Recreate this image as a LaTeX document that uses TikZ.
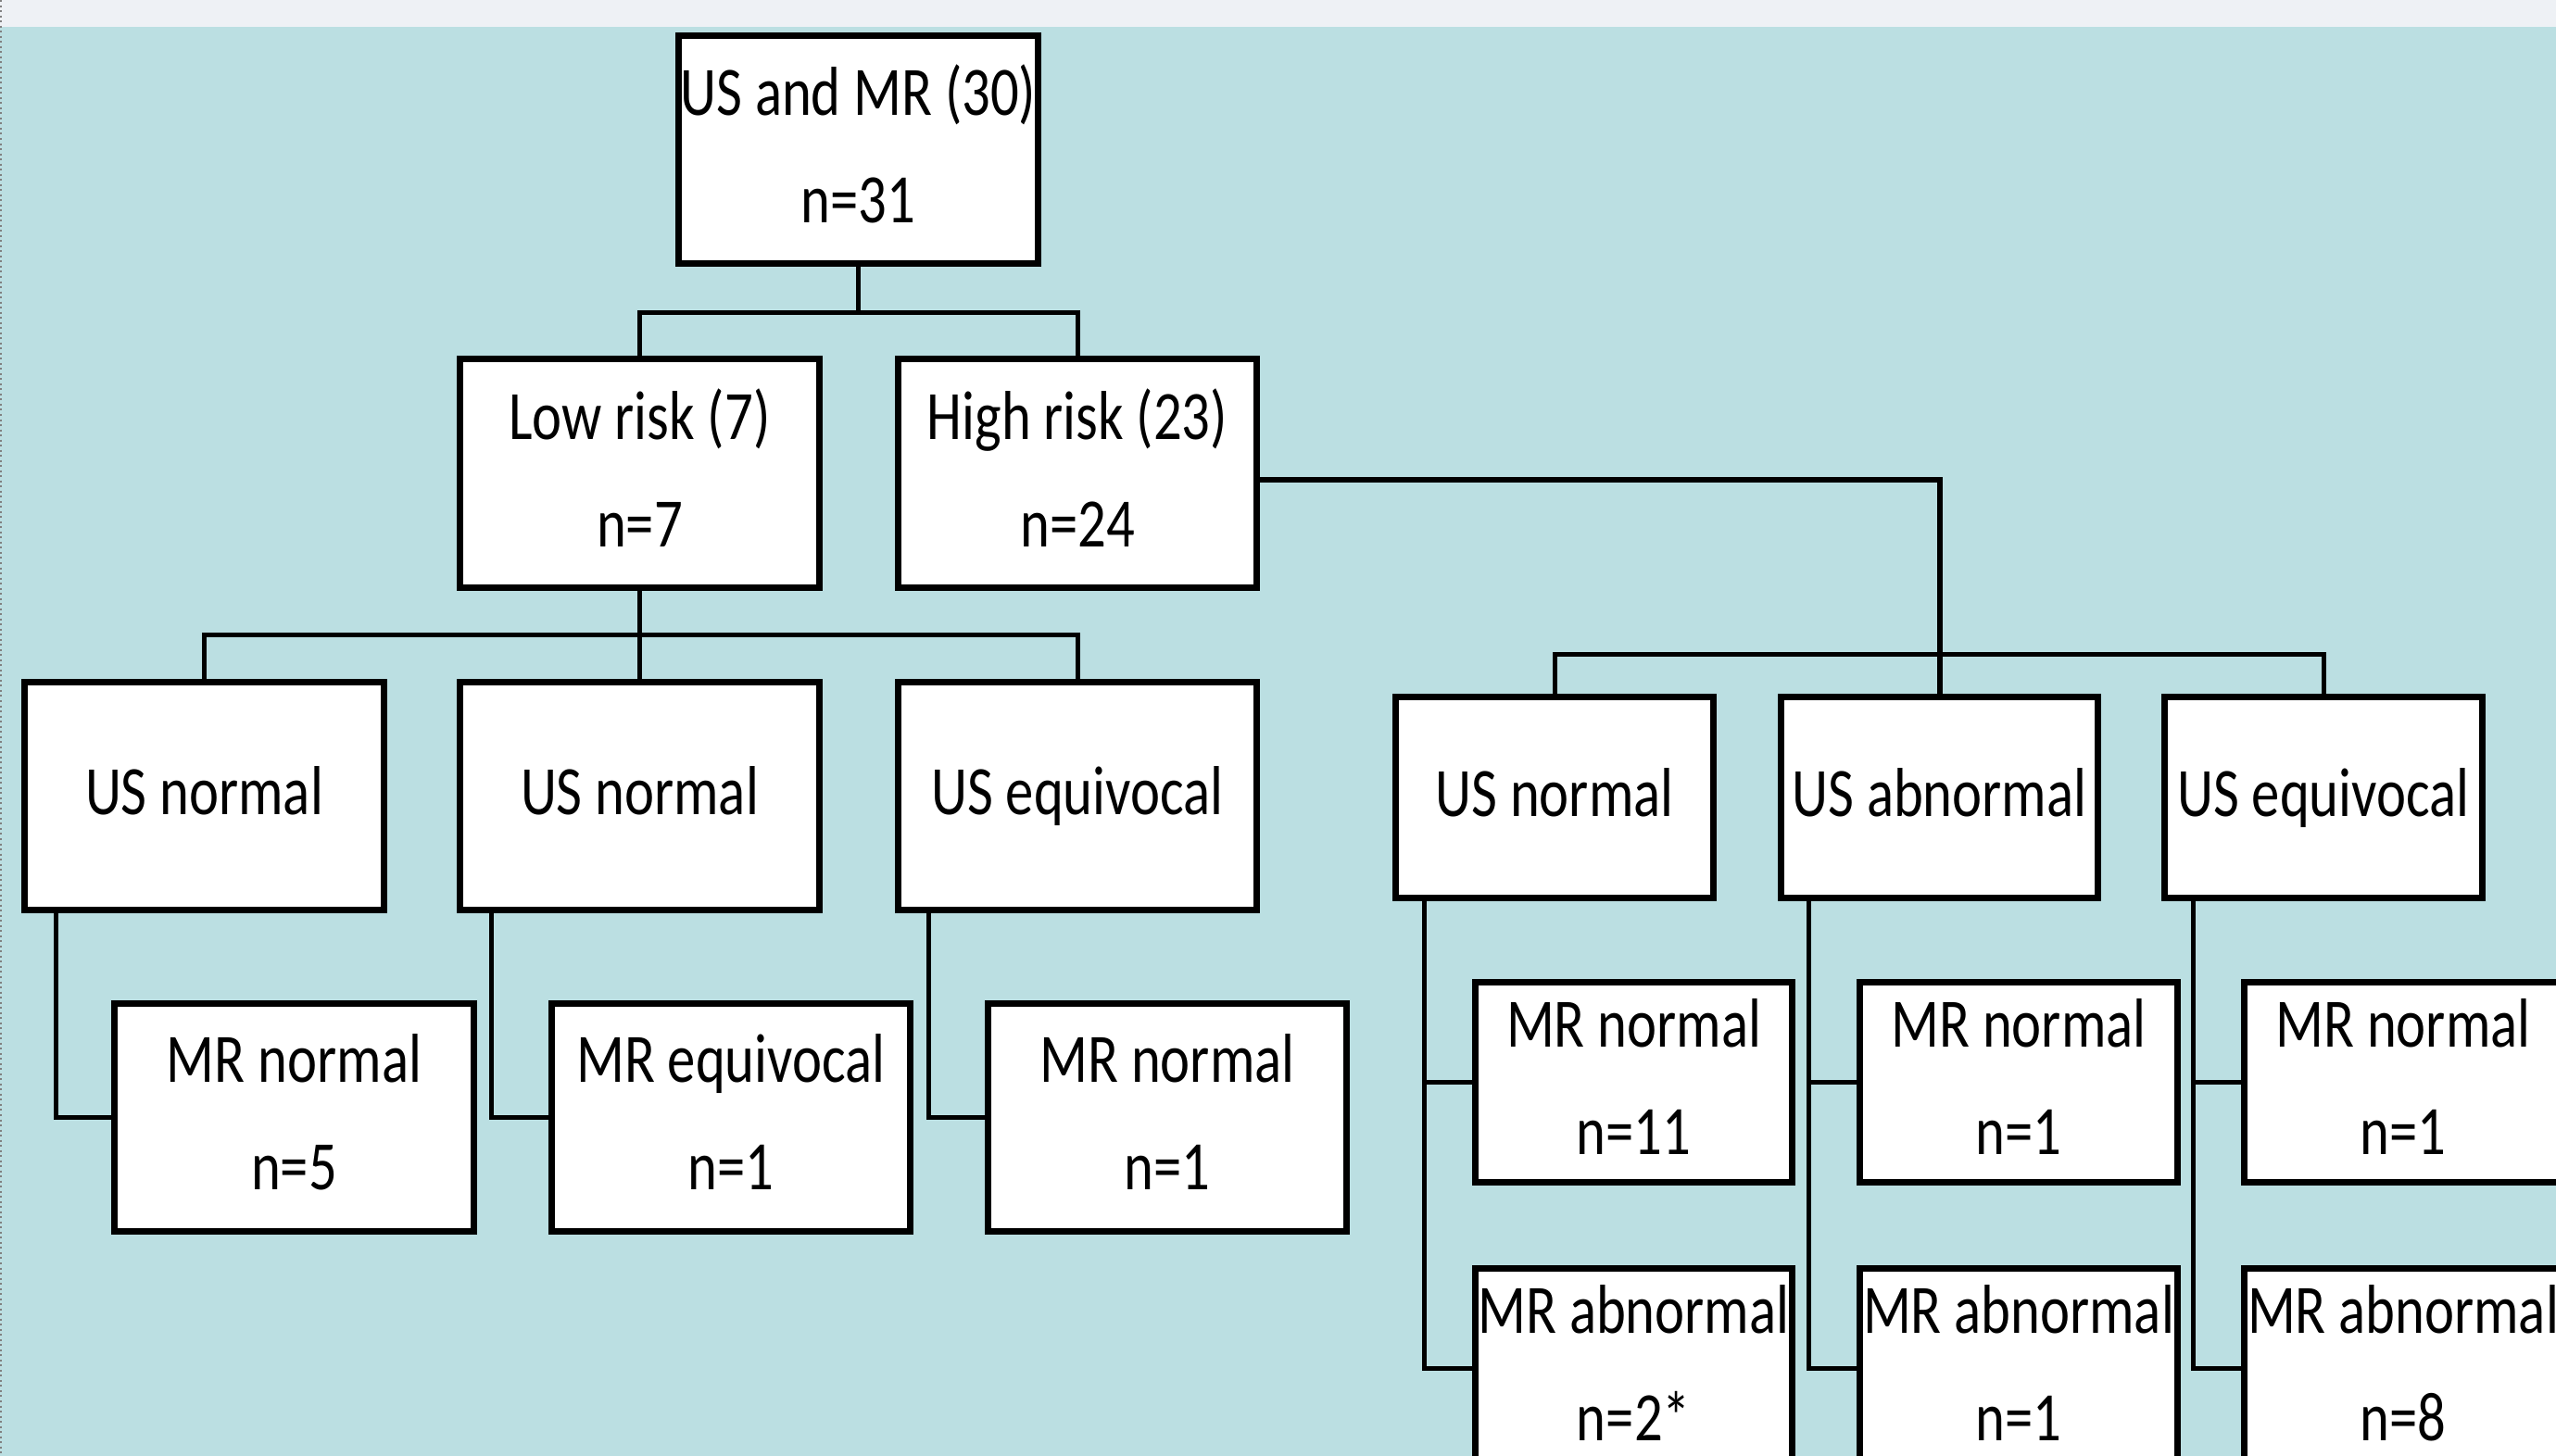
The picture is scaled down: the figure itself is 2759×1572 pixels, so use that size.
\documentclass[tikz,border=0pt]{standalone}
\usepackage{fontspec}
\setmainfont{Carlito}[FakeStretch=0.81]
\definecolor{bgteal}{RGB}{187,223,226}
\definecolor{topgray}{RGB}{238,241,245}

\begin{document}
\begin{tikzpicture}[x=0.01cm, y=-0.01cm,
                treebox/.style = {rectangle, draw, fill=white, line width=0.07cm, align=center, inner sep=0pt, text depth=0.12cm, font=\fontsize{21.3}{33}\selectfont},
                bigbox/.style = {treebox, minimum width=3.87cm, minimum height=2.46cm},
                smallbox/.style = {treebox, minimum width=3.42cm, minimum height=2.16cm},
                link/.style = {line width=0.05cm}
        ]
        \useasboundingbox (0,0) rectangle (2759,1572);
        \clip (0,0) rectangle (2759,1572);
        \fill[bgteal] (0,0) rectangle (2759,1572);
        \fill[topgray] (0,0) rectangle (2759,29);
        \draw[gray, densely dotted, line width=0.02cm] (1,0) -- (1,1572);

        % top of the tree
        \node[bigbox] (root) at (926.5,161.5) {US and MR (30)\\n=31};
        \node[bigbox] (low) at (690.5,511) {Low risk (7)\\n=7};
        \node[bigbox] (high) at (1163,511) {High risk (23)\\n=24};

        % low risk branch
        \node[bigbox] (usn1) at (220.5,859.5) {US normal};
        \node[bigbox] (usn2) at (690.5,859.5) {US normal};
        \node[bigbox] (useq1) at (1163,859.5) {US equivocal};
        \node[bigbox] (mrn1) at (317.5,1206.5) {MR normal\\n=5};
        \node[bigbox] (mreq1) at (789,1206.5) {MR equivocal\\n=1};
        \node[bigbox] (mrn2) at (1260,1206.5) {MR normal\\n=1};

        % high risk branch
        \node[smallbox] (usnR) at (1678,861) {US normal};
        \node[smallbox] (usabR) at (2093.5,861) {US abnormal};
        \node[smallbox] (useqR) at (2508,861) {US equivocal};
        \node[smallbox] (mrnR1) at (1763.5,1168.5) {MR normal\\n=11};
        \node[smallbox] (mrnR2) at (2179,1168.5) {MR normal\\n=1};
        \node[smallbox] (mrnR3) at (2594,1168.5) {MR normal\\n=1};
        \node[smallbox] (mraR1) at (1763.5,1477.5) {MR abnormal\\n=2*};
        \node[smallbox] (mraR2) at (2179,1477.5) {MR abnormal\\n=1};
        \node[smallbox] (mraR3) at (2594,1477.5) {MR abnormal\\n=8};

        % connectors
        \coordinate (topbus) at ([yshift=-0.49cm]root.south);
        \coordinate (lowbus) at ([yshift=-0.48cm]low.south);
        \coordinate (highbus) at ([yshift=0.43cm]usabR.north);
        \draw[link] (root.south) -- (topbus);
        \draw[link] (low.north) |- (topbus) -| (high.north);
        \draw[link] (low.south) -- (usn2.north);
        \draw[link] (usn1.north) |- (lowbus) -| (useq1.north);
        \draw[link, line width=0.06cm] ([yshift=-0.07cm]high.east) -| (usabR.north);
        \draw[link] (usnR.north) |- (highbus) -| (useqR.north);

        \draw[link] ([xshift=0.37cm]usn1.south west) |- (mrn1.west);
        \draw[link] ([xshift=0.37cm]usn2.south west) |- (mreq1.west);
        \draw[link] ([xshift=0.37cm]useq1.south west) |- (mrn2.west);
        \draw[link] ([xshift=0.34cm]usnR.south west) |- (mrnR1.west);
        \draw[link] ([xshift=0.34cm]usnR.south west) |- (mraR1.west);
        \draw[link] ([xshift=0.34cm]usabR.south west) |- (mrnR2.west);
        \draw[link] ([xshift=0.34cm]usabR.south west) |- (mraR2.west);
        \draw[link] ([xshift=0.34cm]useqR.south west) |- (mrnR3.west);
        \draw[link] ([xshift=0.34cm]useqR.south west) |- (mraR3.west);
\end{tikzpicture}
\end{document}
